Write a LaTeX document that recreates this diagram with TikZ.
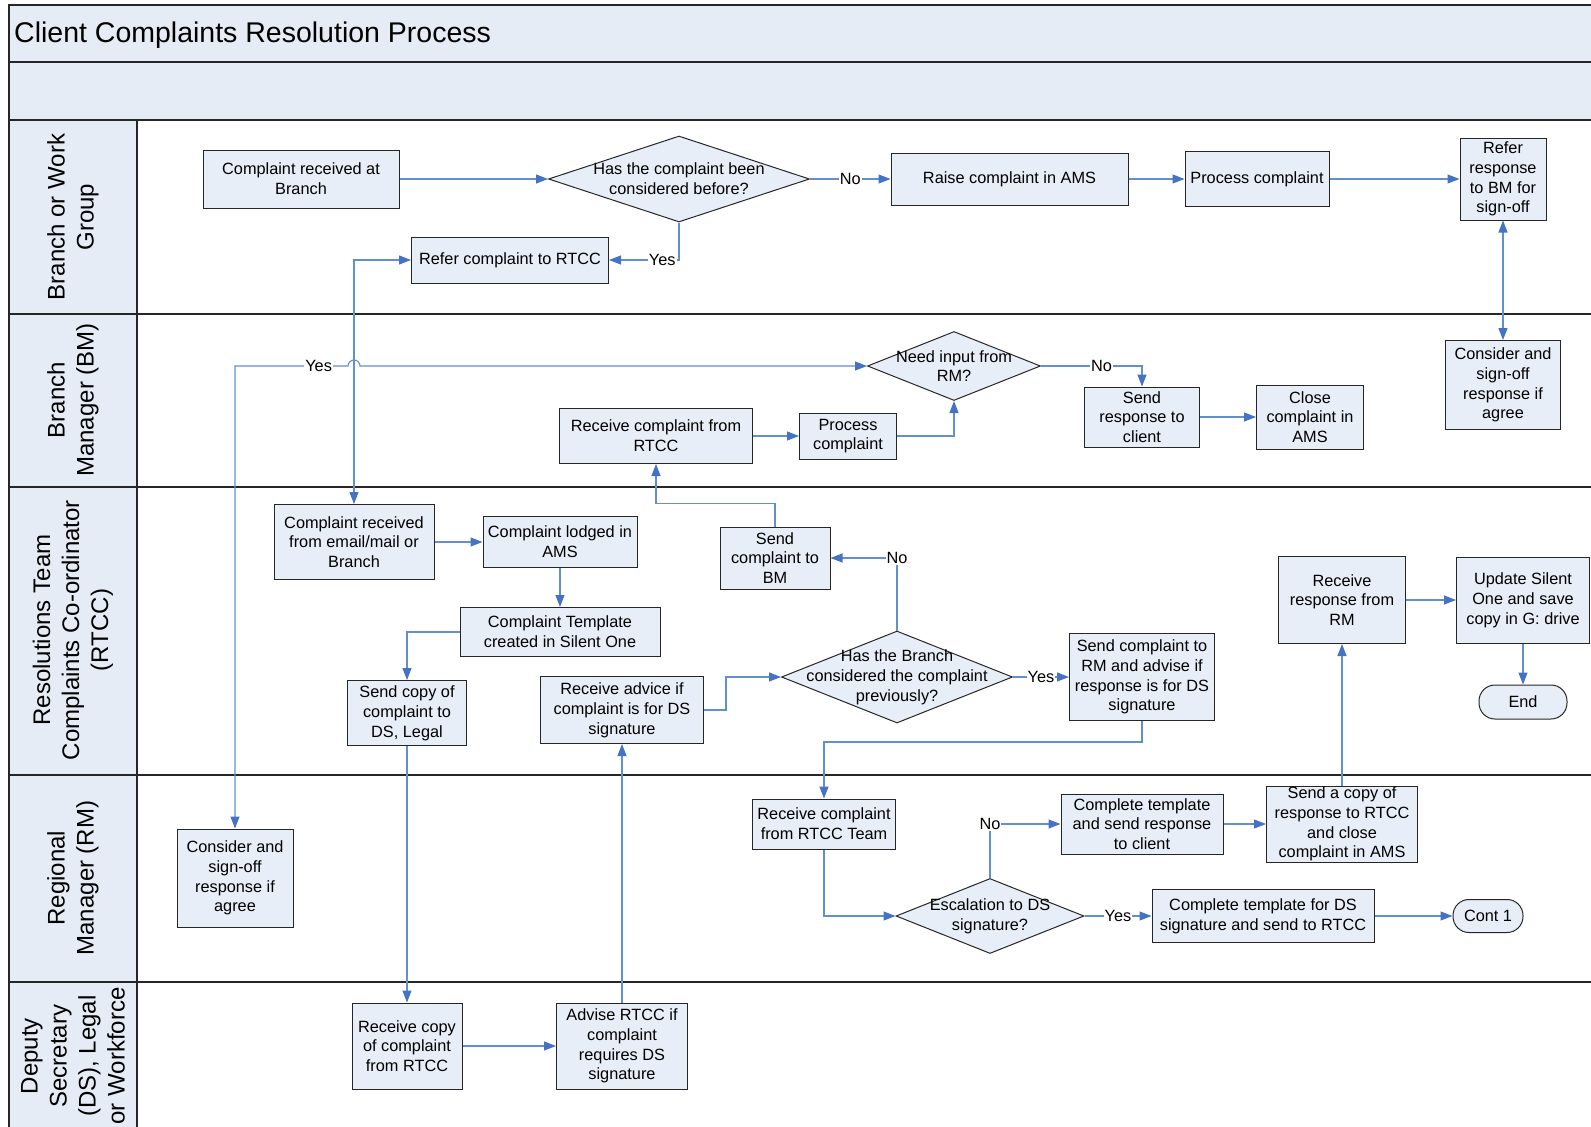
\documentclass[tikz,border=0pt]{standalone}
\usepackage{fontspec}
\setmainfont{Liberation Sans}
\usetikzlibrary{arrows.meta,shapes.geometric}
\definecolor{boxfill}{RGB}{232,238,247}
\definecolor{lanefill}{RGB}{230,236,246}
\definecolor{linkblue}{RGB}{98,143,205}
\definecolor{tipblue}{RGB}{68,114,196}

\tikzset{
  task/.style={draw=black!85, fill=boxfill, line width=1pt, align=center, inner sep=1pt,
    font=\fontsize{16.3}{19.8}\selectfont},
  decision/.style={diamond, draw=black!85, fill=boxfill, line width=1pt, inner sep=0pt},
  dtext/.style={align=center, font=\fontsize{16.3}{19.8}\selectfont},
  terminal/.style={task, rounded corners=16pt},
  flow/.style={draw=linkblue, line width=1.1pt, -{Triangle[length=12pt,width=9pt,color=tipblue]}},
  twoway/.style={draw=linkblue, line width=1.1pt,
    {Triangle[length=12pt,width=9pt,color=tipblue]}-{Triangle[length=12pt,width=9pt,color=tipblue]}},
  tag/.style={fill=white, inner sep=1pt, font=\fontsize{16.3}{19.8}\selectfont},
  lanelabel/.style={rotate=90, align=center, font=\fontsize{24}{29}\selectfont},
}

\begin{document}
\begin{tikzpicture}[x=1pt,y=-1pt]
\useasboundingbox (0,0) rectangle (1591,1127);

% Background
\fill[lanefill] (9,5) rectangle (1591,120);
\fill[lanefill] (9,120) rectangle (137,1140);

% Frame and lanes
\draw[line width=1.5pt, black!85] (1591,5) -- (9,5) -- (9,1140);
\draw[line width=1.5pt, black!85] (137,120) -- (137,1140);
\foreach \y in {62,120,314,487,775,982} {
    \draw[line width=1.5pt, black!85] (9,\y) -- (1591,\y);
}

% Title
\node[anchor=west, inner sep=0pt, font=\fontsize{28.5}{32}\selectfont] (title) at (14,35) {Client Complaints Resolution Process};

% Lane labels
\node[lanelabel] (laneBranch) at (73,217) {Branch or Work\\Group};
\node[lanelabel] (laneBM) at (73,400) {Branch\\Manager (BM)};
\node[lanelabel] (laneRTCC) at (73,630) {Resolutions Team\\Complaints Co-ordinator\\(RTCC)};
\node[lanelabel] (laneRM) at (73,878) {Regional\\Manager (RM)};
\node[lanelabel] (laneDS) at (73,1056) {Deputy\\Secretary\\(DS), Legal\\or Workforce};

% Branch or Work Group
\node[task, minimum width=196pt, minimum height=58pt] (brRecv) at (301,179) {Complaint received at\\Branch};
\node[decision, minimum width=261pt, minimum height=86pt,
  label={[dtext]center:{Has the complaint been\\considered before?}}] (brConsidered) at (679,179) {};
\node[task, minimum width=237pt, minimum height=52pt] (brRaise) at (1009.5,179) {Raise complaint in AMS};
\node[task, minimum width=144pt, minimum height=55pt] (brProcess) at (1257,179) {Process complaint};
\node[task, minimum width=86pt, minimum height=82pt] (brRefer) at (1503,179) {Refer\\response\\to BM for\\sign-off};
\node[task, minimum width=197pt, minimum height=46pt] (brRtcc) at (510,260) {Refer complaint to RTCC};

% Branch Manager
\node[decision, minimum width=173pt, minimum height=69pt,
  label={[dtext]center:{Need input from\\RM?}}] (bmInput) at (954,366) {};
\node[task, minimum width=193pt, minimum height=55pt] (bmRecv) at (656,436) {Receive complaint from\\RTCC};
\node[task, minimum width=97pt, minimum height=46pt] (bmProcess) at (848,436) {Process\\complaint};
\node[task, minimum width=115pt, minimum height=60pt] (bmSend) at (1142,417) {Send\\response to\\client};
\node[task, minimum width=107pt, minimum height=64pt] (bmClose) at (1310,417) {Close\\complaint in\\AMS};
\node[task, minimum width=115pt, minimum height=89pt] (bmSignoff) at (1503,385) {Consider and\\sign-off\\response if\\agree};

% RTCC
\node[task, minimum width=160pt, minimum height=75pt] (rtRecv) at (354,542) {Complaint received\\from email/mail or\\Branch};
\node[task, minimum width=154pt, minimum height=51pt] (rtLodged) at (560,542) {Complaint lodged in\\AMS};
\node[task, minimum width=200pt, minimum height=49pt] (rtTemplate) at (560,632) {Complaint Template\\created in Silent One};
\node[task, minimum width=119pt, minimum height=65pt] (rtCopy) at (407,713) {Send copy of\\complaint to\\DS, Legal};
\node[task, minimum width=163pt, minimum height=67pt] (rtAdvice) at (622,710) {Receive advice if\\complaint is for DS\\signature};
\node[task, minimum width=110pt, minimum height=62pt] (rtToBM) at (775,558) {Send\\complaint to\\BM};
\node[decision, minimum width=231pt, minimum height=92pt,
  label={[dtext]center:{Has the Branch\\considered the complaint\\previously?}}] (rtBranch) at (897,677) {};
\node[task, minimum width=145pt, minimum height=87pt] (rtToRM) at (1142,677) {Send complaint to\\RM and advise if\\response is for DS\\signature};
\node[task, minimum width=127pt, minimum height=87pt] (rtRespRM) at (1342,600) {Receive\\response from\\RM};
\node[task, minimum width=133pt, minimum height=86pt] (rtUpdate) at (1523,600) {Update Silent\\One and save\\copy in G: drive};
\node[terminal, minimum width=88pt, minimum height=34pt] (rtEnd) at (1523,702) {End};

% Regional Manager
\node[task, minimum width=116pt, minimum height=98pt] (rmSignoff) at (235,878) {Consider and\\sign-off\\response if\\agree};
\node[task, minimum width=143pt, minimum height=50pt] (rmRecv) at (824,824) {Receive complaint\\from RTCC Team};
\node[decision, minimum width=188pt, minimum height=75pt,
  label={[dtext]center:{Escalation to DS\\signature?}}] (rmEsc) at (990,916) {};
\node[task, minimum width=162pt, minimum height=60pt] (rmClient) at (1142,824) {Complete template\\and send response\\to client};
\node[task, minimum width=151pt, minimum height=76pt, inner sep=0pt] (rmCopy) at (1342,824) {Send a copy of\\response to RTCC\\and close\\complaint in AMS};
\node[task, minimum width=222pt, minimum height=53pt] (rmDS) at (1263,916) {Complete template for DS\\signature and send to RTCC};
\node[terminal, minimum width=70pt, minimum height=33pt] (rmCont) at (1488,916) {Cont 1};

% Deputy Secretary
\node[task, minimum width=110pt, minimum height=86pt] (dsRecv) at (407,1046) {Receive copy\\of complaint\\from RTCC};
\node[task, minimum width=131pt, minimum height=86pt] (dsAdvise) at (622,1046) {Advise RTCC if\\complaint\\requires DS\\signature};

% Connectors
\draw[flow] (brRecv.east) -- (brConsidered.west);
\draw[flow] (brConsidered.east) -- node[tag]{No} (brRaise.west);
\draw[flow] (brRaise.east) -- (brProcess.west);
\draw[flow] (brProcess.east) -- (brRefer.west);
\draw[flow] (brConsidered.south) |- node[tag, pos=0.62]{Yes} (brRtcc.east);
\draw[twoway] (brRtcc.west) -| (rtRecv.north);
\draw[twoway] (brRefer.south) -- (bmSignoff.north);

\coordinate (hop) at (rtRecv.north |- bmInput.west);
\draw[twoway] (bmInput.west) -- ([xshift=6pt]hop) arc[start angle=0, end angle=-180, radius=6]
  -- node[tag, pos=0.26]{Yes} (rmSignoff.north |- bmInput.west) -- (rmSignoff.north);
\draw[flow] (bmRecv.east) -- (bmProcess.west);
\draw[flow] (bmProcess.east) -| (bmInput.south);
\draw[flow] (bmInput.east) -| node[tag, pos=0.3]{No} (bmSend.north);
\draw[flow] (bmSend.east) -- (bmClose.west);

\draw[flow] (rtRecv.east) -- (rtLodged.west);
\draw[flow] (rtLodged.south) -- (rtTemplate.north);
\draw[flow] (rtTemplate.west) -| (rtCopy.north);
\draw[flow] (rtCopy.south) -- (dsRecv.north);
\draw[flow] (dsRecv.east) -- (dsAdvise.west);
\draw[flow] (dsAdvise.north) -- (rtAdvice.south);
\draw[flow] (rtAdvice.east) -- ++(22,0) |- (rtBranch.west);
\draw[flow] (rtBranch.north) |- node[tag]{No} (rtToBM.east);
\draw[flow] (rtToBM.north) -- ++(0,-23) -| (bmRecv.south);
\draw[flow] (rtBranch.east) -- node[tag]{Yes} (rtToRM.west);
\draw[flow] (rtToRM.south) -- ++(0,21) -| (rmRecv.north);
\draw[flow] (rtRespRM.east) -- (rtUpdate.west);
\draw[flow] (rtUpdate.south) -- (rtEnd.north);

\draw[flow] (rmRecv.south) |- (rmEsc.west);
\draw[flow] (rmEsc.north) |- node[tag]{No} (rmClient.west);
\draw[flow] (rmClient.east) -- (rmCopy.west);
\draw[flow] (rmCopy.north) -- (rtRespRM.south);
\draw[flow] (rmEsc.east) -- node[tag]{Yes} (rmDS.west);
\draw[flow] (rmDS.east) -- (rmCont.west);

\end{tikzpicture}
\end{document}
